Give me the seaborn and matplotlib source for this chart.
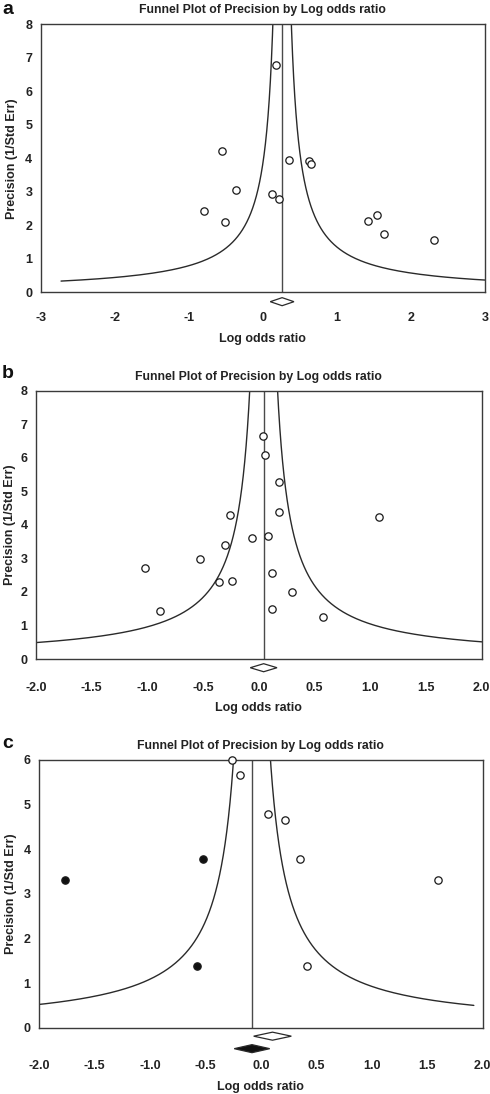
import numpy as np
import pandas as pd
import matplotlib
matplotlib.use("Agg")
import matplotlib.pyplot as plt
import seaborn as sns

sns.set_theme(style="white")
plt.rcParams['font.family'] = ['Liberation Sans', 'DejaVu Sans']
plt.rcParams['font.weight'] = 'bold'
plt.rcParams['axes.labelweight'] = 'bold'

# ---------------- data ----------------
title_text = "Funnel Plot of Precision by Log odds ratio"
xlabel_text = "Log odds ratio"
ylabel_text = "Precision (1/Std Err)"

# Panel a
a_lor = [0.18, -0.55, 0.35, 0.62, 0.65, -0.36, 0.13, 0.22, -0.79, -0.51, 1.42, 1.54, 1.64, 2.31]
a_prec = [6.78, 4.22, 3.94, 3.91, 3.83, 3.04, 2.94, 2.79, 2.44, 2.09, 2.12, 2.32, 1.74, 1.56]
a_mean = 0.26
a_ci_half = 0.16
a_funnel_pmin = 0.335
a_xticks = [-3, -2, -1, 0, 1, 2, 3]
a_xticklabels = ["-3", "-2", "-1", "0", "1", "2", "3"]
a_yticks = [0, 1, 2, 3, 4, 5, 6, 7, 8]

# Panel b
b_lor = [0.04, 0.055, 0.18, 0.18, -0.26, 1.08, -0.06, 0.08, -0.30, -0.53, -1.02,
         -0.36, -0.24, 0.12, 0.30, 0.115, -0.89, 0.58]
b_prec = [6.64, 6.07, 5.27, 4.39, 4.30, 4.24, 3.62, 3.68, 3.39, 2.98, 2.70,
          2.31, 2.33, 2.57, 1.99, 1.48, 1.44, 1.25]
b_mean = 0.043
b_ci_half = 0.12
b_funnel_pmin = 0.49
b_xticks = [-2.0, -1.5, -1.0, -0.5, 0.0, 0.5, 1.0, 1.5, 2.0]
b_xticklabels = ["-2.0", "-1.5", "-1.0", "-0.5", "0.0", "0.5", "1.0", "1.5", "2.0"]
b_yticks = [0, 1, 2, 3, 4, 5, 6, 7, 8]

# Panel c (observed = open, imputed = filled)
c_lor_obs = [-0.26, -0.19, 0.066, 0.216, 0.35, 1.60, 0.414]
c_prec_obs = [5.99, 5.67, 4.78, 4.66, 3.79, 3.31, 1.39]
c_lor_imp = [-1.77, -0.52, -0.58]
c_prec_imp = [3.31, 3.79, 1.39]
c_mean_obs = 0.105
c_ci_half_obs = 0.17
c_mean_adj = -0.08
c_ci_half_adj = 0.16
c_funnel_pmin = 0.50
c_xticks = b_xticks
c_xticklabels = b_xticklabels
c_yticks = [0, 1, 2, 3, 4, 5, 6]

funnel_z = 1.0

# ---------------- figure ----------------
W, H = 490, 1094
fig = plt.figure(figsize=(W / 100, H / 100), dpi=100)

def px_axes(left, right, top, bottom):
    return fig.add_axes([left / W, 1 - bottom / H, (right - left) / W, (bottom - top) / H])

ax_a = px_axes(40.7, 485, 24.3, 292.3)
ax_b = px_axes(36, 481.7, 390.7, 659)
ax_c = px_axes(39, 482.7, 760, 1027.7)

line_col = "#2a2a2a"
frame_col = "#3a3a3a"
text_col = "#222222"
FS = 9

def draw_funnel(ax, center, pmin, ymax):
    p = np.linspace(pmin, ymax * 1.3, 600)
    left = pd.DataFrame({"x": center - funnel_z / p, "y": p})
    right = pd.DataFrame({"x": center + funnel_z / p, "y": p})
    sns.lineplot(data=left, x="x", y="y", sort=False, estimator=None, ax=ax,
                 color=line_col, linewidth=1.0)
    sns.lineplot(data=right, x="x", y="y", sort=False, estimator=None, ax=ax,
                 color=line_col, linewidth=1.0)
    ax.axvline(center, color="#4a4a4a", linewidth=1.0)

def diamond(ax, center, half, ycen, hh, face):
    xs = [center - half, center, center + half, center]
    ys = [ycen, ycen + hh, ycen, ycen - hh]
    ax.fill(xs, ys, facecolor=face, edgecolor=line_col, linewidth=0.9, clip_on=False, zorder=5)

def style(ax, xlim, ylim, xticks, xticklabels, yticks, xpad, ylpad):
    ax.set_xlim(*xlim)
    ax.set_ylim(*ylim)
    ax.set_xticks(xticks)
    ax.set_xticklabels(xticklabels)
    ax.set_yticks(yticks)
    ax.set_yticklabels([str(v) for v in yticks])
    for s in ax.spines.values():
        s.set_visible(True)
        s.set_color(frame_col)
        s.set_linewidth(1.0)
    ax.tick_params(axis="x", direction="inout", length=5, width=1.0, color=frame_col,
                   pad=xpad, labelsize=FS)
    ax.tick_params(axis="y", direction="out", length=0, pad=6, labelsize=FS)
    for lab in ax.get_xticklabels() + ax.get_yticklabels():
        lab.set_fontweight("bold")
        lab.set_color(text_col)
    ax.set_xlabel(xlabel_text, fontsize=FS, fontweight="bold", color=text_col, labelpad=6)
    ax.set_ylabel(ylabel_text, fontsize=FS, fontweight="bold", color=text_col, labelpad=ylpad)
    ax.set_title(title_text, fontsize=8.8, fontweight="bold", color=text_col, pad=8)

def points(ax, xs, ys, filled=False):
    df = pd.DataFrame({"x": xs, "y": ys})
    sns.scatterplot(data=df, x="x", y="y", ax=ax, marker="o", s=28,
                    facecolor="#111111" if filled else "white",
                    edgecolor="#1a1a1a", linewidth=0.9, zorder=6, clip_on=False)

# Panel a
draw_funnel(ax_a, a_mean, a_funnel_pmin, 8)
points(ax_a, a_lor, a_prec)
diamond(ax_a, a_mean, a_ci_half, -0.28, 0.12, "white")
style(ax_a, (-3, 3), (0, 8), a_xticks, a_xticklabels, a_yticks, 12, 5)

# Panel b
draw_funnel(ax_b, b_mean, b_funnel_pmin, 8)
points(ax_b, b_lor, b_prec)
diamond(ax_b, b_mean, b_ci_half, -0.26, 0.12, "white")
style(ax_b, (-2, 2), (0, 8), b_xticks, b_xticklabels, b_yticks, 14, 3)

# Panel c
draw_funnel(ax_c, c_mean_adj, c_funnel_pmin, 6)
points(ax_c, c_lor_obs, c_prec_obs)
points(ax_c, c_lor_imp, c_prec_imp, filled=True)
diamond(ax_c, c_mean_obs, c_ci_half_obs, -0.19, 0.09, "white")
diamond(ax_c, c_mean_adj, c_ci_half_adj, -0.47, 0.09, "#111111")
style(ax_c, (-2, 2), (0, 6), c_xticks, c_xticklabels, c_yticks, 21, 5)

# panel letters
for letter, ypx in [("a", 9), ("b", 374), ("c", 744)]:
    fig.text(2 / W, 1 - ypx / H, letter, fontsize=14, fontweight="bold",
             color="#111111", ha="left", va="center")

fig.savefig("out.png", dpi=100, facecolor="white")
